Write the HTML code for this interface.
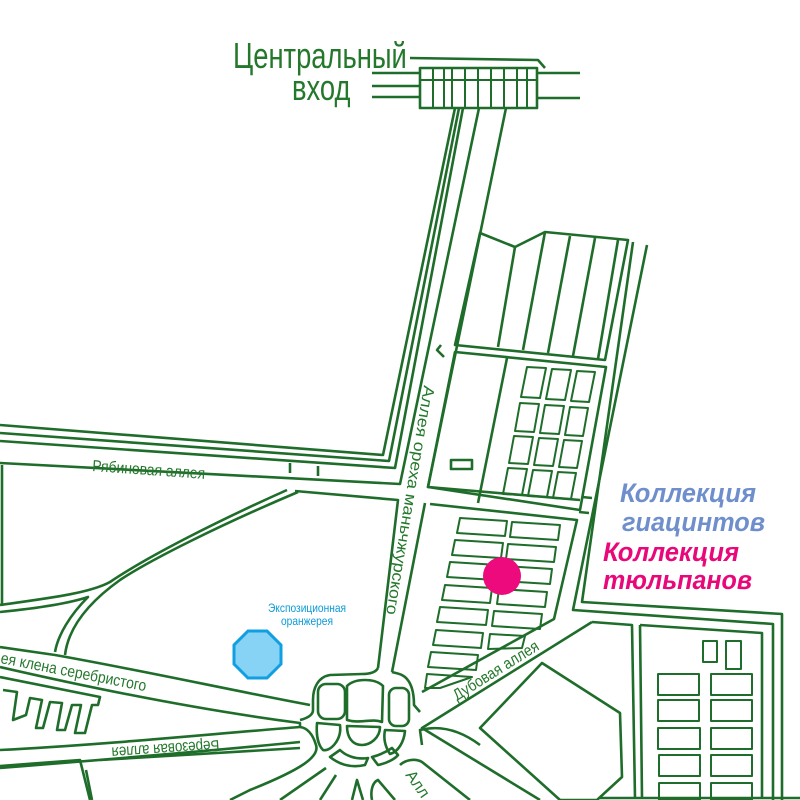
<!DOCTYPE html>
<html><head><meta charset="utf-8"><style>
html,body{margin:0;padding:0;background:#fff;}
svg{display:block}
</style></head><body>
<svg width="800" height="800" viewBox="0 0 800 800" xmlns="http://www.w3.org/2000/svg">
<g fill="none" stroke="#1f6d2a" stroke-width="2.6" stroke-linejoin="round">
<polyline points="410,58 538,60 545,68"/>
<rect x="420" y="68" width="117" height="40"/>
<g stroke-width="2">
<line x1="433" y1="68" x2="433" y2="108"/><line x1="444" y1="68" x2="444" y2="108"/><line x1="452" y1="68" x2="452" y2="108"/><line x1="465" y1="68" x2="465" y2="108"/><line x1="478" y1="68" x2="478" y2="108"/><line x1="491" y1="68" x2="491" y2="108"/><line x1="504" y1="68" x2="504" y2="108"/><line x1="517" y1="68" x2="517" y2="108"/><line x1="527" y1="68" x2="527" y2="108"/>
<line x1="420" y1="80" x2="537" y2="80"/>
</g>
<line x1="372" y1="73" x2="420" y2="73"/><line x1="372" y1="86" x2="420" y2="86"/><line x1="372" y1="97" x2="420" y2="97"/>
<line x1="537" y1="73" x2="580" y2="73"/><line x1="537" y1="98" x2="580" y2="98"/>
<polyline points="455,108 383,455 0,425"/>
<polyline points="459,108 389,461 0,433"/>
<polyline points="463,108 395,468 0,441"/>
<polyline points="479,108 400,484 0,463"/>
<polyline points="506,108 428,487 580,500"/>
<polyline points="441,345 437,350 444,357"/>
<line x1="290" y1="463" x2="290" y2="473"/><line x1="318" y1="466" x2="318" y2="476"/>
<polyline points="295,491 398,500 378,668"/>
<polyline points="2,465 2,605"/>
<polyline points="430,504 577,520 554,619 422,692"/>
<polyline points="425,503 392,672"/>
<polygon points="480,233 515,247 545,232 628,240 605,360 455,345"/>
<line x1="515" y1="247" x2="498" y2="347"/>
<line x1="545" y1="232" x2="523" y2="350"/>
<line x1="570" y1="236" x2="548" y2="353"/>
<line x1="595" y1="238" x2="573" y2="356"/>
<line x1="618" y1="240" x2="598" y2="359"/>
<polyline points="633,242 582,602 782,614 782,800"/>
<polyline points="647,245 573,610 773,624 773,800"/>
<line x1="582" y1="497" x2="592" y2="498"/><line x1="579" y1="512" x2="589" y2="513"/>
<polygon points="455,352 606,367 580,510 428,487"/>
<line x1="507" y1="358" x2="478" y2="503"/>
<rect x="451" y="460" width="21" height="9"/>
<g stroke-width="2">
<polygon points="527,367 546,368 540,398 521,397"/><polygon points="552,369 571,370 565,400 546,399"/><polygon points="577,371 595,372 589,402 571,401"/>
<polygon points="520,403 539,404 534,432 515,431"/><polygon points="545,405 564,406 559,434 540,433"/><polygon points="570,407 588,408 583,436 565,435"/>
<polygon points="514,436 533,437 528,464 509,463"/><polygon points="539,438 558,439 553,466 534,465"/><polygon points="564,440 582,441 577,468 559,467"/>
<polygon points="508,468 527,469 522,495 503,494"/><polygon points="533,470 552,471 547,497 528,496"/><polygon points="558,472 576,473 571,499 553,498"/>
</g>
<g stroke-width="2">
<polygon points="460,518 507,521 505,536 457,533"/><polygon points="512,522 560,525 558,540 510,537"/>
<polygon points="455,540 503,543 501,558 452,555"/><polygon points="508,544 556,547 554,562 506,559"/>
<polygon points="450,562 498,565 496,580 447,577"/><polygon points="504,566 552,569 550,584 502,581"/>
<polygon points="445,585 492,588 490,603 442,600"/><polygon points="499,589 547,592 545,607 497,604"/>
<polygon points="440,607 488,610 486,625 437,622"/><polygon points="494,611 542,614 540,629 492,626"/>
<polygon points="436,630 483,633 481,648 433,645"/><polygon points="490,634 525,636 522,648 488,649"/>
<polygon points="431,652 478,655 476,670 428,667"/>
<polygon points="427,674 472,677 440,688 425,688"/>
</g>
<polyline points="592,622 632,625 635,798"/>
<polyline points="592,622 422,728 540,800"/>
<polygon points="542,663 620,713 622,777 597,800 560,800 480,728"/>
<line x1="640" y1="625" x2="642" y2="798"/>
<polyline points="640,625 762,633 762,798"/>
<line x1="600" y1="798" x2="800" y2="798"/>
<g stroke-width="2">
<rect x="703" y="641" width="14" height="21"/><rect x="726" y="641" width="15" height="28"/>
<rect x="658" y="674" width="41" height="21"/><rect x="711" y="674" width="41" height="21"/>
<rect x="658" y="700" width="41" height="21"/><rect x="711" y="700" width="41" height="21"/>
<rect x="658" y="728" width="42" height="21"/><rect x="711" y="728" width="41" height="21"/>
<rect x="659" y="755" width="41" height="21"/><rect x="711" y="755" width="41" height="21"/>
<rect x="659" y="783" width="41" height="17"/><rect x="711" y="783" width="41" height="17"/>
</g>
<path d="M0,605 C50,598 90,593 110,582 C150,555 220,520 287,490"/>
<path d="M298,492 C220,525 150,560 120,580 C85,605 68,630 65,655"/>
<path d="M0,612 C40,608 70,603 88,597 C70,615 58,635 55,652"/>
<path d="M0,647 L55,655 C140,670 230,690 310,705"/>
<path d="M0,667 C100,690 200,710 300,723 L300,727 C200,735 100,745 0,750"/>
<path d="M0,768 C100,760 200,752 300,742"/>
<polyline points="0,677 100,697 98,705 92,705 85,733 75,733 81,705 72,705 65,730 57,730 62,703 50,702 43,728 36,728 42,700 30,698 26,715 13,720 17,692 3,690"/>
<path d="M0,766 L80,760 L90,800"/>
<path d="M86,770 L92,800 M100,760 L300,748"/>
<path d="M378,668 C376,672 370,674 362,674 L330,675 C318,677 313,688 313,700 L313,710 C313,715 308,718 300,720"/>
<path d="M392,672 C394,673 400,673 405,677 C412,683 414,695 414,705 L420,712"/>
<path d="M300,727 C308,728 313,735 316,745 C320,757 300,770 250,790 L230,800"/>
<path d="M326,768 L280,800 M336,775 L320,800"/>
<path d="M352,800 L357,780 L363,800"/>
<path d="M372,800 C370,790 373,782 378,780 L395,800"/>
<path d="M400,765 C405,760 415,758 422,762 L470,800"/>
<path d="M422,745 L420,730 C440,725 460,730 480,745"/>
<rect x="318" y="684" width="27" height="35" rx="8"/>
<path d="M347,686 C355,678 375,678 383,686 L382,722 C372,718 360,724 347,720 Z"/>
<rect x="389" y="688" width="20" height="38" rx="7"/>
<path d="M317,723 L340,725 C342,740 330,752 323,750 C318,745 316,735 317,723 Z"/>
<path d="M347,726 L380,727 C380,738 370,745 362,745 C352,745 347,737 347,726 Z"/>
<path d="M385,730 L405,731 C404,742 398,752 390,754 C386,748 383,740 385,730 Z"/>
<path d="M330,757 C340,765 352,768 365,765 L368,758 C355,760 345,755 340,750 Z"/>
<path d="M372,757 L378,765 C388,763 396,758 398,755 L392,748 C386,752 380,755 372,757 Z"/>
</g>
<polygon points="248,631 267,631 281,645 281,664 267,678 248,678 234,664 234,645" fill="#87d3f5" stroke="#109fe0" stroke-width="3"/>
<circle cx="502" cy="576" r="19" fill="#ec0a7c"/>
<g font-family="'Liberation Sans','DejaVu Sans',sans-serif">
<text x="233" y="68" font-size="36" fill="#24782c" transform="translate(233,0) scale(0.76,1) translate(-233,0)">Центральный</text>
<text x="292" y="100" font-size="36" fill="#24782c" transform="translate(292,0) scale(0.76,1) translate(-292,0)">вход</text>
<text x="307" y="612" font-size="12" fill="#0a9ad6" text-anchor="middle" transform="translate(307,0) scale(0.85,1) translate(-307,0)">Экспозиционная</text>
<text x="307" y="625" font-size="12" fill="#0a9ad6" text-anchor="middle" transform="translate(307,0) scale(0.85,1) translate(-307,0)">оранжерея</text>
<g font-size="27" font-weight="bold" font-style="italic">
<text x="620" y="502" fill="#6f8fcc" textLength="136" lengthAdjust="spacingAndGlyphs">Коллекция</text>
<text x="622" y="531" fill="#6f8fcc" textLength="143" lengthAdjust="spacingAndGlyphs">гиацинтов</text>
<text x="603" y="561" fill="#e8087a" textLength="136" lengthAdjust="spacingAndGlyphs">Коллекция</text>
<text x="603" y="589" fill="#e8087a" textLength="149" lengthAdjust="spacingAndGlyphs">тюльпанов</text>
</g>
<g font-size="16" fill="#24782c">
<text transform="translate(92,471) rotate(4)" textLength="113" lengthAdjust="spacingAndGlyphs">Рябиновая аллея</text>
<text transform="translate(424,385) rotate(99.4)" textLength="232" lengthAdjust="spacingAndGlyphs">Аллея ореха маньчжурского</text>
<text transform="translate(0,663) rotate(11)" textLength="148" lengthAdjust="spacingAndGlyphs">ея клена серебристого</text>
<text transform="translate(219,740) rotate(176)" textLength="108" lengthAdjust="spacingAndGlyphs">Березовая аллея</text>
<text transform="translate(457,701) rotate(-32)" textLength="98" lengthAdjust="spacingAndGlyphs">Дубовая аллея</text>
<text transform="translate(405,775) rotate(55)">Алл</text>
</g>
</g>
</svg>
</body></html>
